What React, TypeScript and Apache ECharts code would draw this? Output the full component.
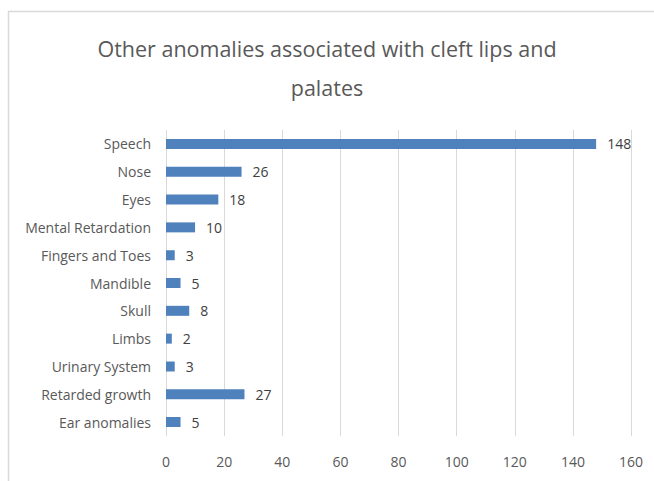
import React, { useEffect, useRef } from "react";
import * as echarts from "echarts";

const titleText = "Other anomalies associated with cleft lips and\npalates";
const categories = [
  "Speech",
  "Nose",
  "Eyes",
  "Mental Retardation",
  "Fingers and Toes",
  "Mandible",
  "Skull",
  "Limbs",
  "Urinary System",
  "Retarded growth",
  "Ear anomalies",
];
const values = [148, 26, 18, 10, 3, 5, 8, 2, 3, 27, 5];
const xMin = 0;
const xMax = 160;
const xStep = 20;

const FONT = "'Open Sans', 'Noto Sans', sans-serif";

export default function App() {
  const ref = useRef<HTMLDivElement>(null);
  useEffect(() => {
    if (!ref.current) return;
    const chart = echarts.init(ref.current, undefined, { renderer: "svg" });
    chart.setOption({
      animation: false,
      backgroundColor: "#ffffff",
      graphic: [
        {
          type: "rect",
          shape: { x: 8.5, y: 11.5, width: 700, height: 500 },
          style: { fill: "none", stroke: "#d9d9d9", lineWidth: 1.5 },
          silent: true,
        },
      ],
      title: {
        text: titleText,
        left: "center",
        top: 24,
        textStyle: {
          fontFamily: FONT,
          fontSize: 21.5,
          fontWeight: "normal",
          color: "#595959",
          lineHeight: 39,
        },
      },
      grid: { left: 166, right: 23, top: 130, bottom: 45, containLabel: false },
      xAxis: {
        type: "value",
        min: xMin,
        max: xMax,
        interval: xStep,
        axisLine: { show: false },
        axisTick: { show: false },
        splitLine: { show: true, lineStyle: { color: "#d9d9d9", width: 1 } },
        axisLabel: {
          fontFamily: FONT,
          fontSize: 14,
          color: "#595959",
          margin: 18,
        },
      },
      yAxis: {
        type: "category",
        inverse: true,
        data: categories,
        axisLine: { show: false },
        axisTick: { show: false },
        splitLine: { show: false },
        axisLabel: {
          fontFamily: FONT,
          fontSize: 14,
          color: "#595959",
          margin: 15,
        },
      },
      series: [
        {
          type: "bar",
          data: values,
          barWidth: 10,
          itemStyle: { color: "#4f81bd" },
          label: {
            show: true,
            position: "right",
            distance: 11,
            fontFamily: FONT,
            fontSize: 14,
            color: "#404040",
          },
        },
      ],
    });
    return () => chart.dispose();
  }, []);
  return (
    <div
      ref={ref}
      style={{ position: "fixed", left: 0, top: 0, width: 654, height: 481 }}
    />
  );
}
